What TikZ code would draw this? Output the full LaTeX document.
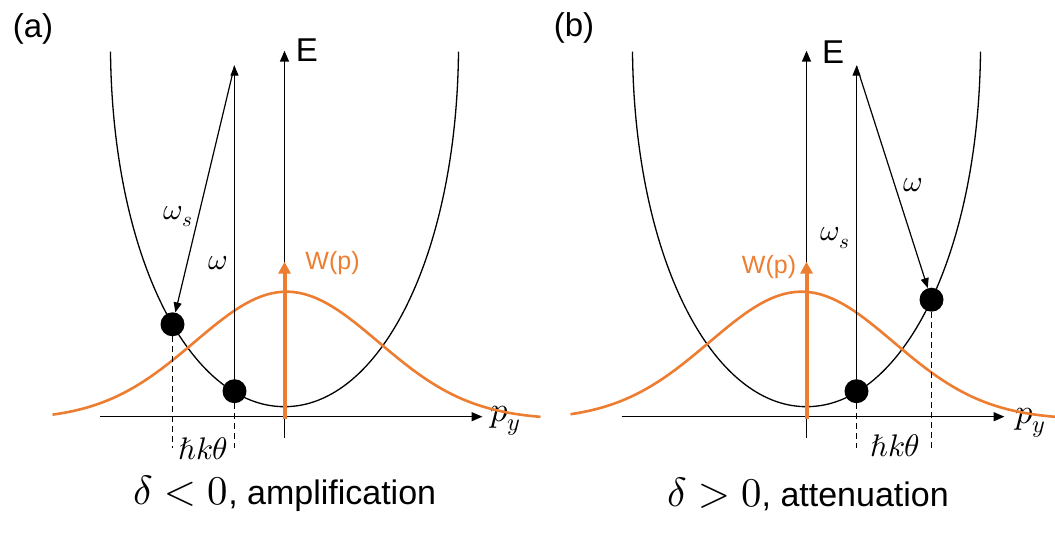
\documentclass[tikz,border=0pt]{standalone}
\usepackage{fontspec}
\usepackage{unicode-math}
\setmainfont{Liberation Sans}
\setmathfont{Latin Modern Math}[Scale=1.2]
\usetikzlibrary{arrows.meta}
\tikzset{x=1pt,y=1pt}
\definecolor{wcol}{HTML}{ED7D31}
\tikzset{
  axisline/.style={line width=1.4pt,-{Triangle[length=11pt,width=9pt]}},
  trans/.style={line width=1.2pt,-{Triangle[length=10pt,width=8pt]}},
  atom/.style={circle,fill,inner sep=0pt,minimum size=24pt},
  drop/.style={line width=1.2pt,dash pattern=on 6pt off 4pt},
  gauss/.style={wcol,line width=2.6pt},
  warrow/.style={wcol,line width=4pt,-{Triangle[length=12pt,width=12pt]}},
  big/.style={font=\fontsize{33}{36}\selectfont,inner sep=0pt},
  lbl/.style={font=\fontsize{25}{30}\selectfont,inner sep=0pt},
  wlbl/.style={wcol,font=\fontsize{25}{30}\selectfont,inner sep=0pt},
  capline/.style={font=\fontsize{34}{38}\selectfont,inner sep=0pt},
}
% the band E(p), same in both panels
\newcommand{\bowl}{\draw[line width=1.3pt] (-174,365) .. controls (-172,160) and (-95,10) .. (0,10)
  .. controls (95,10) and (172,160) .. (174,365);}

\begin{document}
\begin{tikzpicture}
\useasboundingbox (0,0) rectangle (1055,541);

% (a) amplification
\begin{scope}[shift={(284.5,124.3)}]
  \bowl
  \coordinate (a-xl) at (-185,0);
  \coordinate (a-xr) at (198,0);
  \coordinate (a-yb) at (0,-21);
  \coordinate (a-yt) at (0,366);
  \draw[axisline] (a-xl) -- (a-xr);
  \draw[axisline] (a-yb) -- (a-yt);
  \node[big] (a-E) at (22.5,366.7) {E};
  \node[lbl,font=\fontsize{29}{32}\selectfont] (a-py) at (221,-4) {$p_y$};
  \draw[gauss] plot[domain=-232:256,samples=90]
    (\x,{128*exp(-0.5*((\x-2)/92)*((\x-2)/92))-3});
  \coordinate (a-w0) at (0,-2);
  \coordinate (a-w1) at (0,155);
  \draw[warrow] (a-w0) -- (a-w1);
  \node[wlbl] (a-W) at (48,153.7) {W(p)};
  % photon transitions
  \node[atom] (a-d1) at (-112,92.4) {};
  \node[atom] (a-d2) at (-50,25.5) {};
  \coordinate (a-top) at (-50,351);
  \draw[trans] (a-d2) -- (a-top);
  \draw[trans] (a-top) -- (a-d1);
  \node[lbl] (a-ws) at (-106,200) {$\omega_s$};
  \node[lbl] (a-w) at (-66.2,153.4) {$\omega$};
  % recoil
  \coordinate (a-h1) at (-112,-31);
  \coordinate (a-h2) at (-50,-31);
  \draw[drop] (a-d1.south) -- (a-h1);
  \draw[drop] (a-d2.south) -- (a-h2);
  \node[lbl,font=\fontsize{26}{30}\selectfont] (a-hk) at (-81.5,-32.3) {$\hbar k\theta$};
  \node[capline] (a-cap) at (0.5,-77.3) {$\delta<0$, amplification};
  \node[big] (a-tag) at (-251.5,387.7) {(a)};
\end{scope}

% (b) attenuation
\begin{scope}[shift={(806.5,124.3)}]
  \bowl
  \coordinate (b-xl) at (-185,0);
  \coordinate (b-xr) at (198,0);
  \coordinate (b-yb) at (0,-21);
  \coordinate (b-yt) at (0,366);
  \draw[axisline] (b-xl) -- (b-xr);
  \draw[axisline] (b-yb) -- (b-yt);
  \node[big] (b-E) at (26.5,364.7) {E};
  \node[lbl,font=\fontsize{29}{32}\selectfont] (b-py) at (224,-6) {$p_y$};
  \draw[gauss] plot[domain=-236:249,samples=90]
    (\x,{128*exp(-0.5*((\x+5)/92)*((\x+5)/92))-3});
  \coordinate (b-w0) at (0,-2);
  \coordinate (b-w1) at (0,155);
  \draw[warrow] (b-w0) -- (b-w1);
  \node[wlbl] (b-W) at (-37.5,149.7) {W(p)};
  % photon transitions
  \node[atom] (b-d1) at (50,25.5) {};
  \node[atom] (b-d2) at (125,117) {};
  \coordinate (b-top) at (50,351);
  \draw[trans] (b-d1) -- (b-top);
  \draw[trans] (b-top) -- (b-d2);
  \node[lbl] (b-ws) at (28.5,178.7) {$\omega_s$};
  \node[lbl] (b-w) at (106.8,231.7) {$\omega$};
  % recoil
  \coordinate (b-h1) at (50,-31);
  \coordinate (b-h2) at (125,-31);
  \draw[drop] (b-d1.south) -- (b-h1);
  \draw[drop] (b-d2.south) -- (b-h2);
  \node[lbl,font=\fontsize{26}{30}\selectfont] (b-hk) at (88.5,-29.3) {$\hbar k\theta$};
  \node[capline] (b-cap) at (1.5,-77.3) {$\delta>0$, attenuation};
  \node[big] (b-tag) at (-232.5,388.7) {(b)};
\end{scope}
\end{tikzpicture}
\end{document}
